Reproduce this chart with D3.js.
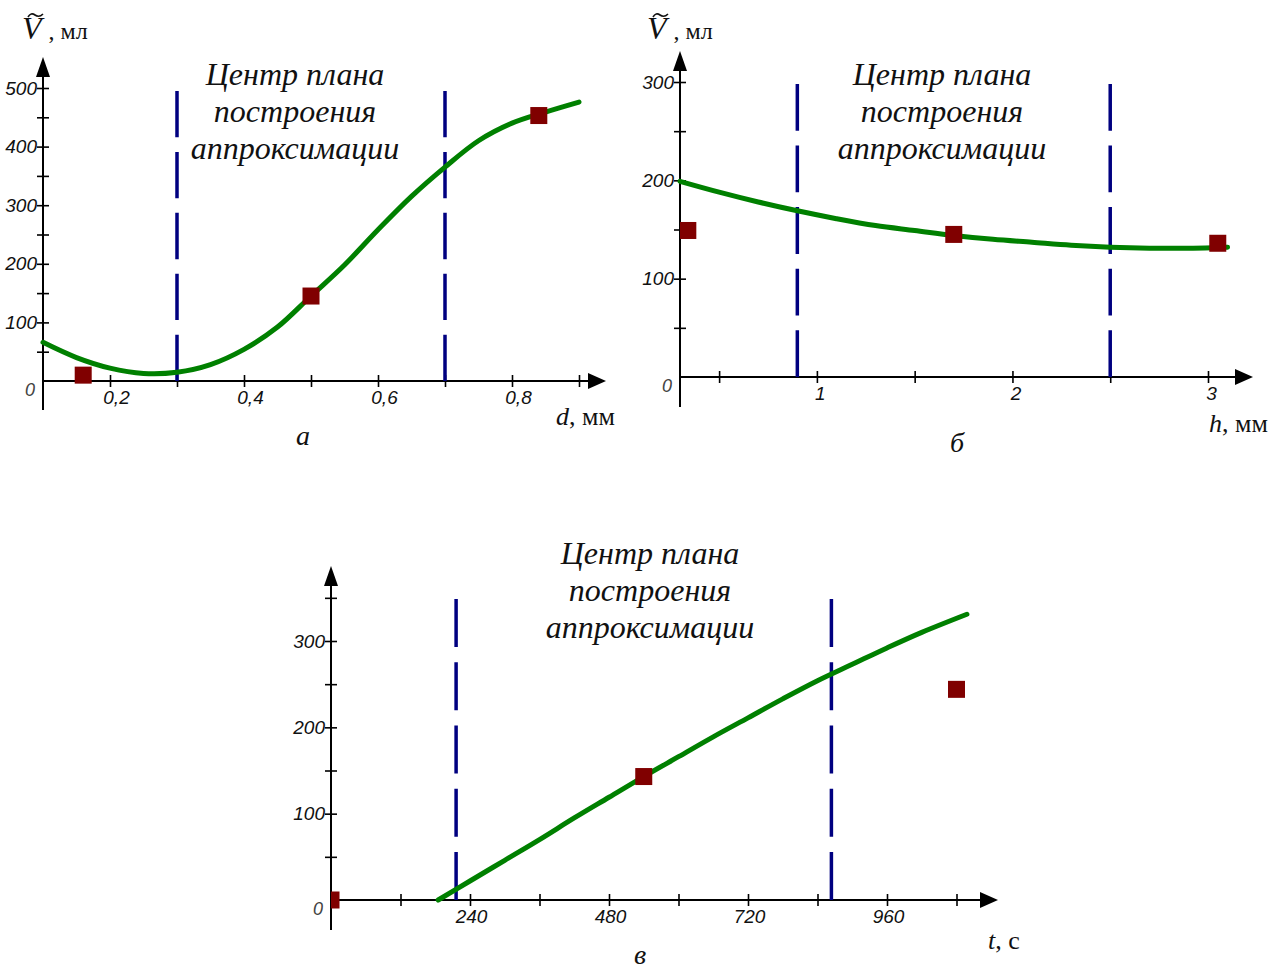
<html>
<head>
<script src="https://d3js.org/d3.v7.min.js"></script>
<style>
  body { margin: 0; background: #fff; }
  .tick text { font-family: "Liberation Sans", Arial, sans-serif; font-style: italic; font-size: 19px; fill: #111; }
  .serif { font-family: "Liberation Serif", "Times New Roman", serif; }
</style>
</head>
<body>
<svg id="chart" width="1284" height="972"></svg>
<script>
// ---- panel a: V(d) ----
const aCurveX = [0.1, 0.15, 0.2, 0.25, 0.3, 0.35, 0.4, 0.45, 0.5, 0.55, 0.6, 0.65, 0.7, 0.75, 0.8, 0.85, 0.9];
const aCurveY = [66, 40, 22, 13, 15, 28, 54, 92, 145, 198, 258, 315, 365, 410, 440, 459, 476];
const aPointX = [0.16, 0.5, 0.84];
const aPointY = [10, 145, 453];
const aDashX = [0.3, 0.7];
const aXTicks = [0.2, 0.3, 0.4, 0.5, 0.6, 0.7, 0.8, 0.9];
const aXLabels = [0.2, 0.4, 0.6, 0.8];
const aYTicks = [50, 100, 150, 200, 250, 300, 350, 400, 450, 500];
const aYLabels = [100, 200, 300, 400, 500];

// ---- panel b: V(h) ----
const bCurveX = [0.3, 0.5, 0.7, 0.9, 1.1, 1.3, 1.5, 1.7, 1.9, 2.1, 2.3, 2.5, 2.7, 2.9, 3.1];
const bCurveY = [199, 188, 178, 169, 161, 154, 149, 144, 140, 137, 134, 132, 131, 131, 132];
const bPointX = [0.34, 1.7, 3.05];
const bPointY = [149, 145, 136];
const bDashX = [0.9, 2.5];
const bXTicks = [0.5, 1, 1.5, 2, 2.5, 3];
const bXLabels = [1, 2, 3];
const bYTicks = [50, 100, 150, 200, 250, 300];
const bYLabels = [100, 200, 300];

// ---- panel c: V(t) ----
const cCurveX = [185, 240, 300, 360, 420, 480, 540, 600, 660, 720, 780, 840, 900, 960, 1020, 1098];
const cCurveY = [0, 22, 46, 70, 95, 119, 143, 166, 189, 211, 233, 254, 273, 292, 310, 331];
const cPointX = [0, 540, 1080];
const cPointY = [0, 143, 244];
const cDashX = [216, 864];
const cXTicks = [120, 240, 360, 480, 600, 720, 840, 960, 1080];
const cXLabels = [240, 480, 720, 960];
const cYTicks = [50, 100, 150, 200, 250, 300, 350];
const cYLabels = [100, 200, 300];

const centerText = ["Центр плана", "построения", "аппроксимации"];

const svg = d3.select("#chart");
const fmt = v => String(v).replace(".", ",");

function drawPanel(p) {
    const g = svg.append("g").attr("id", p.id);
    const x = d3.scaleLinear().domain(p.xDomain).range(p.xRange);
    const y = d3.scaleLinear().domain(p.yDomain).range(p.yRange);
    const x0 = p.xRange[0], y0 = y(0);

    // clip so the point at the axis origin gets cut like in the original
    g.append("clipPath").attr("id", p.id + "-clip")
        .append("rect").attr("x", x0).attr("y", 0).attr("width", 1284).attr("height", 972);

    // axis lines + arrows
    g.append("line").attr("x1", x0).attr("x2", p.xEnd - 14).attr("y1", y0).attr("y2", y0)
        .attr("stroke", "#000").attr("stroke-width", 2);
    g.append("path").attr("d", `M${p.xEnd},${y0} L${p.xEnd - 18},${y0 - 8} L${p.xEnd - 18},${y0 + 8} Z`).attr("fill", "#000");
    g.append("line").attr("x1", x0).attr("x2", x0).attr("y1", p.yBottom).attr("y2", p.yEnd + 14)
        .attr("stroke", "#000").attr("stroke-width", 2);
    g.append("path").attr("d", `M${x0},${p.yEnd} L${x0 - 7},${p.yEnd + 20} L${x0 + 7},${p.yEnd + 20} Z`).attr("fill", "#000");

    // x ticks
    const xAxis = d3.axisBottom(x).tickValues(p.xTicks).tickSize(6)
        .tickFormat(d => p.xLabels.includes(d) ? fmt(d) : "");
    const gx = g.append("g").attr("transform", `translate(0,${y0})`).call(xAxis);
    gx.select(".domain").remove();
    gx.selectAll(".tick line").attr("y1", -6).attr("y2", 6).attr("stroke", "#000").attr("stroke-width", 1.6);
    gx.selectAll(".tick text").attr("y", 10).attr("dx", p.xLabelDx);

    // y ticks
    const yAxis = d3.axisLeft(y).tickValues(p.yTicks).tickSize(6)
        .tickFormat(d => p.yLabels.includes(d) ? d : "");
    const gy = g.append("g").attr("transform", `translate(${x0},0)`).call(yAxis);
    gy.select(".domain").remove();
    gy.selectAll(".tick line").attr("x1", -6).attr("x2", 6).attr("stroke", "#000").attr("stroke-width", 1.6);
    gy.selectAll(".tick text").attr("x", -6);

    // origin "0"
    g.append("text").attr("x", x0 - 13).attr("y", y0 + 15)
        .attr("text-anchor", "middle")
        .style("font-family", "Liberation Sans, Arial, sans-serif").style("font-style", "italic")
        .style("font-size", "18px").style("fill", "#444").text("0");

    // dashed lines: 5 dashes from top down to the axis
    const span = y0 - p.dashTop;
    const period = span / 4.76, dash = period * 0.76;
    g.selectAll("line.dash").data(p.dashX).join("line").attr("class", "dash")
        .attr("x1", d => x(d)).attr("x2", d => x(d))
        .attr("y1", p.dashTop).attr("y2", y0)
        .attr("stroke", "#000080").attr("stroke-width", 3.5)
        .attr("stroke-dasharray", `${dash},${period - dash}`);

    // curve
    const pts = p.curveX.map((d, i) => [d, p.curveY[i]]);
    g.append("path").datum(pts)
        .attr("d", d3.line().x(d => x(d[0])).y(d => y(d[1])).curve(d3.curveCatmullRom.alpha(0.5)))
        .attr("fill", "none").attr("stroke", "#008000").attr("stroke-width", 5)
        .attr("stroke-linecap", "round");

    // points
    const s = 17;
    g.append("g").attr("clip-path", `url(#${p.id}-clip)`)
        .selectAll("rect").data(p.pointX.map((d, i) => [d, p.pointY[i]])).join("rect")
        .attr("x", d => x(d[0]) - s / 2).attr("y", d => y(d[1]) - s / 2)
        .attr("width", s).attr("height", s).attr("fill", "#800000");

    // centre caption
    g.append("text").attr("class", "serif").attr("text-anchor", "middle")
        .style("font-style", "italic").style("font-size", "32px").style("fill", "#111")
        .selectAll("tspan").data(centerText).join("tspan")
        .attr("x", p.captionX).attr("y", (d, i) => p.captionY + i * 37).text(d => d);

    // y label  (V with tilde)
    if (p.yLabelX !== undefined) {
        const t = g.append("text").attr("class", "serif").attr("x", p.yLabelX).attr("y", 39).style("fill", "#111");
        t.append("tspan").style("font-style", "italic").style("font-size", "32px").text("V");
        t.append("tspan").style("font-size", "24px").attr("dx", 7).text(", мл");
        const tx0 = p.yLabelX + 6;
        g.append("path")
            .attr("d", `M${tx0},${17} q3,-5 7,-2 t8,-1`)
            .attr("fill", "none").attr("stroke", "#111").attr("stroke-width", 1.6);
    }

    // x label
    const tx = g.append("text").attr("class", "serif").attr("x", p.xLabelPos[0]).attr("y", p.xLabelPos[1])
        .style("font-size", "26px").style("fill", "#111");
    tx.append("tspan").style("font-style", "italic").text(p.xVar);
    tx.append("tspan").text(p.xUnit);

    // sub-figure letter
    g.append("text").attr("class", "serif").attr("x", p.letterPos[0]).attr("y", p.letterPos[1])
        .attr("text-anchor", "middle").style("font-style", "italic").style("font-size", "28px")
        .style("fill", "#111").text(p.letter);
}

drawPanel({
    id: "pa", xDomain: [0.1, 0.9], xRange: [43, 579], yDomain: [0, 500], yRange: [381, 88],
    xEnd: 606, yEnd: 57, yBottom: 410, dashTop: 91, xLabelDx: 6,
    xTicks: aXTicks, xLabels: aXLabels, yTicks: aYTicks, yLabels: aYLabels,
    dashX: aDashX, curveX: aCurveX, curveY: aCurveY, pointX: aPointX, pointY: aPointY,
    captionX: 295, captionY: 85, yLabelX: 22,
    xVar: "d", xUnit: ", мм", xLabelPos: [556, 425], letter: "а", letterPos: [303, 445]
});

drawPanel({
    id: "pb", xDomain: [0.3, 3.0], xRange: [680, 1208], yDomain: [0, 300], yRange: [377, 82],
    xEnd: 1253, yEnd: 51, yBottom: 407, dashTop: 84, xLabelDx: 3,
    xTicks: bXTicks, xLabels: bXLabels, yTicks: bYTicks, yLabels: bYLabels,
    dashX: bDashX, curveX: bCurveX, curveY: bCurveY, pointX: bPointX, pointY: bPointY,
    captionX: 942, captionY: 85, yLabelX: 647,
    xVar: "h", xUnit: ", мм", xLabelPos: [1209, 432], letter: "б", letterPos: [957, 452]
});

drawPanel({
    id: "pc", xDomain: [0, 960], xRange: [331, 887], yDomain: [0, 300], yRange: [900, 641],
    xEnd: 998, yEnd: 566, yBottom: 930, dashTop: 599, xLabelDx: 1,
    xTicks: cXTicks, xLabels: cXLabels, yTicks: cYTicks, yLabels: cYLabels,
    dashX: cDashX, curveX: cCurveX, curveY: cCurveY, pointX: cPointX, pointY: cPointY,
    captionX: 650, captionY: 564,
    xVar: "t", xUnit: ", с", xLabelPos: [988, 949], letter: "в", letterPos: [640, 964]
});
</script>
</body>
</html>
